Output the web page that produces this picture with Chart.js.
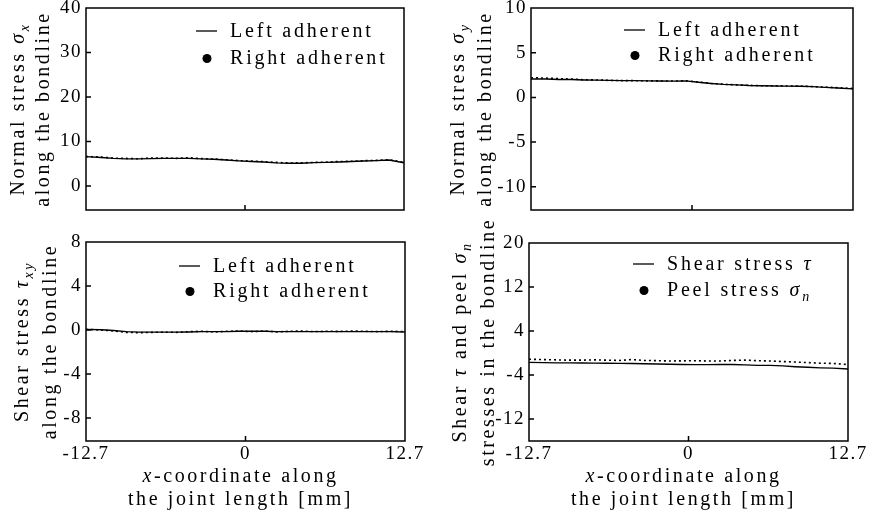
<!DOCTYPE html>
<html>
<head>
<meta charset="utf-8">
<script src="https://cdn.jsdelivr.net/npm/chart.js@4/dist/chart.umd.min.js"></script>
<style>
  html, body { margin: 0; padding: 0; background: #fff; overflow: hidden; }
  #wrap { position: relative; width: 869px; height: 519px; overflow: hidden; background: #fff; }
  canvas { position: absolute; }
</style>
</head>
<body>
<div id="wrap">
  <canvas id="c1"></canvas>
  <canvas id="c2"></canvas>
  <canvas id="c3"></canvas>
  <canvas id="c4"></canvas>
</div>
<script>
// x positions along the joint (mm)
const xs = [-12.7, -11.5, -10.5, -9.5, -8.5, -7.5, -6.5, -5.5, -4.5, -3.5, -2.5, -1.5, -0.5,
            0.5, 1.5, 2.5, 3.5, 4.5, 5.5, 6.5, 7.5, 8.5, 9.5, 10.5, 11.5, 12.7];
const xTicks = [-12.7, 0, 12.7];

// normal stress sigma_x
const sigmaXLeft  = [6.6, 6.4, 6.2, 6.1, 6.1, 6.15, 6.2, 6.2, 6.2, 6.1, 6.0, 5.85, 5.65,
                     5.5, 5.4, 5.2, 5.1, 5.1, 5.25, 5.3, 5.4, 5.5, 5.6, 5.7, 5.85, 5.2];
const sigmaXRight = [6.6, 6.5, 6.25, 6.2, 6.1, 6.3, 6.3, 6.2, 6.35, 6.15, 6.05, 5.9, 5.7,
                     5.6, 5.45, 5.3, 5.15, 5.2, 5.3, 5.35, 5.5, 5.55, 5.7, 5.75, 5.9, 5.3];
const yTicks1 = [0, 10, 20, 30, 40];

// normal stress sigma_y
const sigmaYLeft  = [2.05, 2.05, 2.0, 2.0, 1.95, 1.93, 1.9, 1.88, 1.87, 1.85, 1.83, 1.82, 1.85,
                     1.7, 1.55, 1.45, 1.4, 1.33, 1.3, 1.28, 1.26, 1.25, 1.2, 1.12, 1.05, 0.95];
const sigmaYRight = [2.2, 2.15, 2.1, 2.05, 1.97, 1.95, 1.9, 1.88, 1.87, 1.85, 1.84, 1.83, 1.85,
                     1.72, 1.57, 1.47, 1.4, 1.35, 1.3, 1.3, 1.27, 1.27, 1.2, 1.15, 1.08, 1.0];
const yTicks2 = [-10, -5, 0, 5, 10];

// shear stress tau_xy
const tauXYLeft  = [0.05, 0.02, -0.05, -0.15, -0.2, -0.2, -0.2, -0.2, -0.18, -0.15, -0.15, -0.15, -0.12,
                    -0.12, -0.12, -0.15, -0.15, -0.15, -0.15, -0.15, -0.15, -0.15, -0.15, -0.15, -0.15, -0.18];
const tauXYRight = [0.05, 0.0, -0.1, -0.22, -0.25, -0.22, -0.2, -0.22, -0.15, -0.12, -0.18, -0.12, -0.1,
                    -0.15, -0.1, -0.18, -0.12, -0.1, -0.15, -0.12, -0.13, -0.1, -0.12, -0.15, -0.12, -0.15];
const yTicks3 = [-8, -4, 0, 4, 8];

// shear and peel stress in the bondline
const shearBond = [-1.7, -1.75, -1.8, -1.8, -1.82, -1.85, -1.85, -1.88, -1.92, -1.96, -2.0, -2.05, -2.1,
                   -2.12, -2.12, -2.1, -2.1, -2.15, -2.25, -2.25, -2.35, -2.5, -2.6, -2.7, -2.75, -2.9];
const peelBond  = [-1.14, -1.2, -1.25, -1.3, -1.3, -1.25, -1.3, -1.35, -1.2, -1.35, -1.4, -1.45, -1.43,
                   -1.4, -1.45, -1.45, -1.35, -1.3, -1.4, -1.45, -1.55, -1.65, -1.75, -1.85, -1.9, -2.1];
const yTicks4 = [-12, -4, 4, 12, 20];

const namesAdherent = ['Left adherent', 'Right adherent'];
const namesBond = ['Shear stress τ', 'Peel stress σ_n'];
const xTitle = ['*x*-coordinate along', 'the joint length [mm]'];

const SERIF = "'Liberation Serif','Times New Roman',serif";
Chart.defaults.font.family = SERIF;
Chart.defaults.color = '#000';

// little markup: *..* italic, _.. subscript, greek letters italic
function parse(str) {
    const greek = /[\u0370-\u03ff]/;
    const segs = []; let i = 0;
    while (i < str.length) {
        const c = str[i];
        if (c === '*') { const j = str.indexOf('*', i + 1); segs.push({t: str.slice(i + 1, j), it: true}); i = j + 1; }
        else if (c === '_') { let j = i + 1; while (j < str.length && str[j] !== ' ') j++; segs.push({t: str.slice(i + 1, j), it: true, sub: true}); i = j; }
        else if (greek.test(c)) { segs.push({t: c, it: true}); i++; }
        else { let j = i; while (j < str.length && str[j] !== '*' && str[j] !== '_' && !greek.test(str[j])) j++; segs.push({t: str.slice(i, j)}); i = j; }
    }
    return segs;
}

function drawText(ctx, str, x, y, size, align) {
    const parts = parse(str).map(s => {
        const fs = s.sub ? Math.round(size * 0.7) : size;
        const font = (s.it ? 'italic ' : '') + fs + 'px ' + SERIF;
        ctx.font = font;
        return {s, font, w: ctx.measureText(s.t).width};
    });
    const total = parts.reduce((a, p) => a + p.w, 0);
    let cx = align === 'center' ? x - total / 2 : x;
    ctx.textAlign = 'left'; ctx.textBaseline = 'alphabetic';
    parts.forEach(p => {
        ctx.font = p.font;
        ctx.fillText(p.s.t, cx, y + (p.s.sub ? size * 0.25 : 0));
        cx += p.w;
    });
}

const paper = {
    id: 'paper',
    beforeDraw(chart) {
        chart.ctx.letterSpacing = '1.5px';
    },
    afterDraw(chart, args, o) {
        const ctx = chart.ctx, a = chart.chartArea;
        const xs_ = chart.scales.x, ys_ = chart.scales.y;
        ctx.save();
        ctx.strokeStyle = '#000'; ctx.fillStyle = '#000'; ctx.lineWidth = 1.5;
        ctx.strokeRect(a.left, a.top, a.right - a.left, a.bottom - a.top);
        // inward ticks
        ctx.beginPath();
        ys_.ticks.forEach(t => {
            if (t.value <= ys_.min || t.value >= ys_.max) return;
            const py = ys_.getPixelForValue(t.value);
            ctx.moveTo(a.left, py); ctx.lineTo(a.left + 5, py);
        });
        xs_.ticks.forEach(t => {
            if (t.value <= xs_.min || t.value >= xs_.max) return;
            const px = xs_.getPixelForValue(t.value);
            ctx.moveTo(px, a.bottom); ctx.lineTo(px, a.bottom - 5);
        });
        ctx.stroke();

        ctx.letterSpacing = '2.8px';
        // legend
        chart.data.datasets.forEach((ds, i) => {
            const tx = a.left + o.legend[0];
            const cy = a.top + o.legend[1] + i * o.legend[2];
            if (i === 0) {
                ctx.lineWidth = 1.3;
                ctx.beginPath(); ctx.moveTo(tx - 34, cy + 1); ctx.lineTo(tx - 13, cy + 1); ctx.stroke();
            } else {
                ctx.beginPath(); ctx.arc(tx - 23, cy + 1.5, 4.5, 0, Math.PI * 2); ctx.fill();
            }
            drawText(ctx, ds.label, tx, cy + 7, 20, 'left');
        });
        // y title (rotated, two lines)
        ctx.letterSpacing = '2.6px';
        const midY = (a.top + a.bottom) / 2;
        o.yTitle.forEach((line, i) => {
            ctx.save();
            ctx.translate(a.left - o.yTitleOff[i], midY);
            ctx.rotate(-Math.PI / 2);
            drawText(ctx, line, 0, 7, 20, 'center');
            ctx.restore();
        });
        // x title
        if (o.xTitle) {
            const midX = (a.left + a.right) / 2 - 5;
            o.xTitle.forEach((line, i) => drawText(ctx, line, midX, a.bottom + 34 + i * 23 + 7, 20, 'center'));
        }
        ctx.restore();
    }
};

const panels = [
    {id: 'c1', box: [0, -20, 460, 250], plot: [86, 8, 404, 210], yMin: -5.4, yMax: 40, yTicks: yTicks1,
     series: [sigmaXLeft, sigmaXRight], names: namesAdherent, xLabels: false,
     yTitle: ['Normal stress σ_x', 'along the bondline'], yTitleOff: [69, 44], legend: [144, 22, 27]},
    {id: 'c2', box: [430, -20, 469, 250], plot: [531, 8, 853, 210], yMin: -12.6, yMax: 10, yTicks: yTicks2,
     series: [sigmaYLeft, sigmaYRight], names: namesAdherent, xLabels: false,
     yTitle: ['Normal stress σ_y', 'along the bondline'], yTitleOff: [74, 47], legend: [127, 21, 25]},
    {id: 'c3', box: [0, 215, 460, 304], plot: [86, 242, 405, 441], yMin: -10.1, yMax: 8, yTicks: yTicks3,
     series: [tauXYLeft, tauXYRight], names: namesAdherent, xLabels: true,
     yTitle: ['Shear stress τ_xy', 'along the bondline'], yTitleOff: [65, 37], legend: [127, 23, 25]},
    {id: 'c4', box: [430, 215, 469, 304], plot: [529, 243, 848, 441], yMin: -16, yMax: 20, yTicks: yTicks4,
     series: [shearBond, peelBond], names: namesBond, xLabels: true,
     yTitle: ['Shear τ and peel σ_n', 'stresses in the bondline'], yTitleOff: [70, 42], legend: [138, 20, 26]}
];

panels.forEach(p => {
    const el = document.getElementById(p.id);
    const [cx, cy, cw, ch] = p.box;
    const [L, T, R, B] = p.plot;
    el.width = cw; el.height = ch;
    el.style.left = cx + 'px'; el.style.top = cy + 'px';
    el.style.width = cw + 'px'; el.style.height = ch + 'px';

    new Chart(el, {
        type: 'line',
        data: {
            datasets: [
                {label: p.names[0], data: xs.map((x, i) => ({x, y: p.series[0][i]})),
                 borderColor: '#000', borderWidth: 1.4, pointRadius: 0, tension: 0},
                {label: p.names[1], data: xs.map((x, i) => ({x, y: p.series[1][i]})),
                 borderColor: '#000', borderWidth: 1.6, borderDash: [2, 3], pointRadius: 0, tension: 0}
            ]
        },
        options: {
            responsive: false, animation: false, devicePixelRatio: 1,
            layout: {padding: {left: 0, top: T - cy, right: cx + cw - R, bottom: 0}},
            plugins: {
                legend: {display: false}, tooltip: {enabled: false},
                paper: {legend: p.legend, yTitle: p.yTitle, yTitleOff: p.yTitleOff, xTitle: p.xLabels ? xTitle : null}
            },
            scales: {
                x: {
                    type: 'linear', min: -12.7, max: 12.7,
                    grid: {display: false, drawTicks: false}, border: {display: false},
                    afterBuildTicks: s => { s.ticks = xTicks.map(v => ({value: v})); },
                    afterFit: s => { s.height = cy + ch - B; },
                    ticks: {display: p.xLabels, padding: 2, font: {size: 19}, color: '#000', maxRotation: 0, callback: v => String(v)}
                },
                y: {
                    min: p.yMin, max: p.yMax,
                    grid: {display: false, drawTicks: false}, border: {display: false},
                    afterBuildTicks: s => { s.ticks = p.yTicks.map(v => ({value: v})); },
                    afterFit: s => { s.width = L - cx; },
                    ticks: {padding: 4, font: {size: 19}, color: '#000', callback: v => String(v)}
                }
            }
        },
        plugins: [paper]
    });
});
</script>
</body>
</html>
